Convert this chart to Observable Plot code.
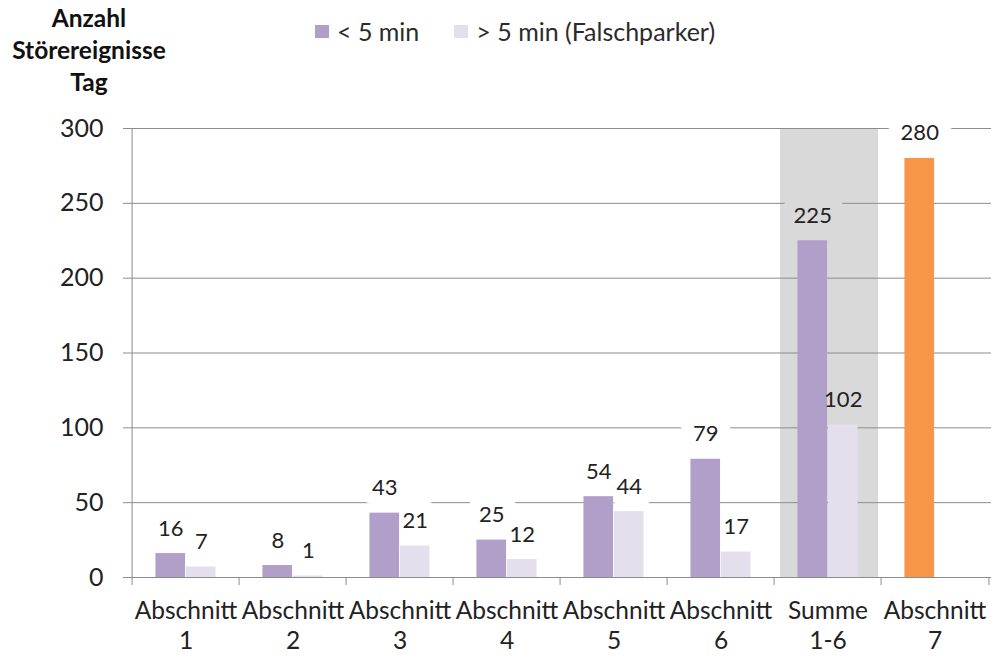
<!DOCTYPE html>
<html><head><meta charset="utf-8">
<script src="https://cdn.jsdelivr.net/npm/d3@7"></script>
<script src="https://cdn.jsdelivr.net/npm/@observablehq/plot@0.6"></script>
<style>
body{margin:0;background:#fff;font-family:Lato, sans-serif;}
#wrap{position:relative;width:1002px;height:658px;overflow:hidden}
#ytitle{position:absolute;left:0;top:2px;width:178px;text-align:center;font-weight:700;font-size:24.5px;line-height:32px;color:#111;}
#legend{position:absolute;left:315px;top:16px;display:flex;align-items:center;font-size:25px;color:#2b2b2b;line-height:30px;white-space:nowrap}
.sw{display:inline-block;width:14px;height:13px;margin-right:8px}
.item{display:flex;align-items:center;margin-right:35px}
</style></head>
<body><div id="wrap"><div id="chart"></div><div id="ytitle">Anzahl<br>Störereignisse<br>Tag</div><div id="legend"></div></div>
<script>
const categories = ["Abschnitt 1","Abschnitt 2","Abschnitt 3","Abschnitt 4","Abschnitt 5","Abschnitt 6","Summe 1-6","Abschnitt 7"];
const seriesNames = ["< 5 min", "> 5 min (Falschparker)"];
const shortValues = [16, 8, 43, 25, 54, 79, 225, 280];
const longValues = [7, 1, 21, 12, 44, 17, 102, null];
const highlighted = ["Summe 1-6"];
const accentCategory = "Abschnitt 7";
const yTicks = [0, 50, 100, 150, 200, 250, 300];

const purple = "#b09fc8", lilac = "#e4dfec", orange = "#f79646", grey = "#d9d9d9";
const gridColor = "#8c8c8c", textColor = "#222";

const W = 1002, H = 658, mL = 128, mR = 11, mT = 128, mB = 81;
const bw = (W - mL - mR) / categories.length;
const barW = 30.5;

const rows = [];
categories.forEach((c, i) => {
  rows.push({cat: c, series: seriesNames[0], value: shortValues[i]});
  if (longValues[i] != null) rows.push({cat: c, series: seriesNames[1], value: longValues[i]});
});
const s0 = rows.filter(d => d.series === seriesNames[0]);
const s1 = rows.filter(d => d.series === seriesNames[1]);
const fillOf = d => d.cat === accentCategory ? orange : (d.series === seriesNames[0] ? purple : lilac);
const haloOf = d => highlighted.includes(d.cat) ? grey : "white";

const labelOpts = (dx) => ({x: "cat", y: "value", text: d => String(d.value), dx, dy: -25, fontSize: 22, lineAnchor: "middle"});
const haloMark = (data, dx) => Plot.text(data, {...labelOpts(dx), stroke: haloOf, fill: haloOf, strokeWidth: 26, strokeLinejoin: "round"});

const chart = Plot.plot({
  width: W, height: H,
  marginLeft: mL, marginRight: mR, marginTop: mT, marginBottom: mB,
  style: {fontFamily: "Lato, sans-serif", color: textColor, background: "white"},
  x: {type: "band", domain: categories, paddingInner: 0, paddingOuter: 0},
  y: {domain: [0, 300]},
  marks: [
    Plot.barY(highlighted, {x: d => d, y1: 0, y2: yTicks[yTicks.length - 1], fill: grey, insetLeft: 6, insetRight: 3}),
    Plot.gridY(yTicks.filter(t => t > 0), {stroke: gridColor, strokeOpacity: 1}),
    haloMark(s0, -barW / 2),
    haloMark(s1, barW / 2),
    Plot.barY(s0, {x: "cat", y: "value", fill: fillOf, insetLeft: bw / 2 - barW, insetRight: bw / 2}),
    Plot.barY(s1, {x: "cat", y: "value", fill: fillOf, insetLeft: bw / 2, insetRight: bw / 2 - barW}),
    Plot.text(s0, {...labelOpts(-barW / 2), fill: textColor}),
    Plot.text(s1, {...labelOpts(barW / 2), fill: textColor}),
    Plot.axisY({ticks: yTicks, tickSize: 5, tickPadding: 20, fontSize: 25, stroke: gridColor, label: null}),
    Plot.ruleY([0], {stroke: gridColor}),
    Plot.ruleX([categories[0]], {dx: -bw / 2, stroke: gridColor}),
    Plot.ruleX(categories, {dx: -bw / 2, stroke: gridColor, insetTop: H - mT - mB, insetBottom: -8}),
    Plot.ruleX([categories[categories.length - 1]], {dx: bw / 2, stroke: gridColor, insetTop: H - mT - mB, insetBottom: -8}),
    Plot.axisX({tickSize: 0, tickPadding: 20, tickFormat: d => d.replace(" ", "\n"), lineHeight: 1.24, fontSize: 24.5, label: null})
  ]
});
document.getElementById("chart").appendChild(chart);

const legend = document.getElementById("legend");
[[seriesNames[0], purple], [seriesNames[1], lilac]].forEach(([name, col]) => {
  const it = document.createElement("div");
  it.className = "item";
  const sw = document.createElement("span");
  sw.className = "sw"; sw.style.background = col;
  it.appendChild(sw);
  it.appendChild(document.createTextNode(name));
  legend.appendChild(it);
});
</script>
</body></html>
